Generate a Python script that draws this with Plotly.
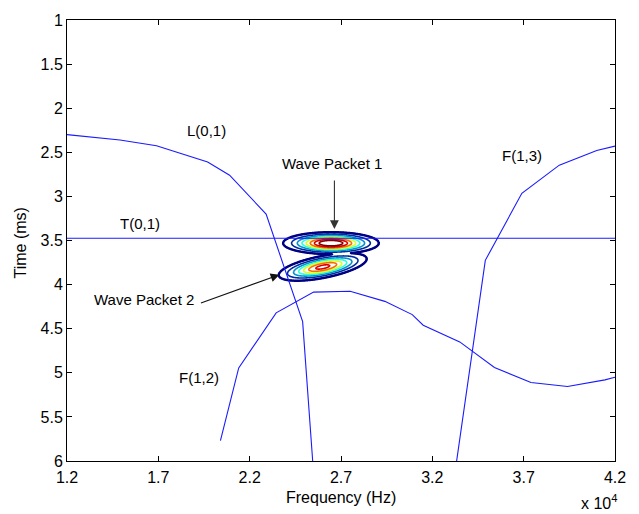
import numpy as np
import plotly.graph_objects as go

# ---------------- data (frequency in units of 10^4 Hz, time in ms) ----------------
L01_freq = [1.20, 1.49, 1.69, 1.97, 2.09, 2.29, 2.49, 2.545]
L01_time = [2.30, 2.36, 2.425, 2.61, 2.76, 3.20, 4.42, 6.00]

T01_freq = [1.20, 4.20]
T01_time = [3.475, 3.475]

F12_freq = [2.04, 2.14, 2.345, 2.55, 2.75, 2.94, 3.09, 3.15, 3.35, 3.54, 3.74, 3.94, 4.145, 4.20]
F12_time = [5.77, 4.945, 4.32, 4.085, 4.075, 4.19, 4.34, 4.46, 4.65, 4.94, 5.11, 5.155, 5.08, 5.05]

F13_freq = [3.333, 3.49, 3.69, 3.895, 4.10, 4.20]
F13_time = [6.00, 3.725, 2.965, 2.646, 2.48, 2.43]

# wave packets (time-frequency energy blobs)
packet_fc = [2.645, 2.60]      # centre frequency
packet_tc = [3.53, 3.80]       # centre time
packet_amp = [1.0, 0.8]        # relative energy
packet_sf = [0.122, 0.118]     # frequency spread
packet_st = [0.058, 0.062]     # time spread
packet_tilt = [0.0, -0.38]     # time drift per unit frequency

mode_labels = ["L(0,1)", "T(0,1)", "F(1,3)", "F(1,2)"]
mode_label_freq = [1.961, 1.601, 3.693, 1.925]
mode_label_time = [2.256, 3.306, 2.537, 5.05]

x_ticks = [1.2, 1.7, 2.2, 2.7, 3.2, 3.7, 4.2]
x_ticktext = ["1.2", "1.7", "2.2", "2.7", "3.2", "3.7", "4.2"]
y_ticks = [1, 1.5, 2, 2.5, 3, 3.5, 4, 4.5, 5, 5.5, 6]
y_ticktext = ["1", "1.5", "2", "2.5", "3", "3.5", "4", "4.5", "5", "5.5", "6"]

# ---------------- energy field for the contour ----------------
fx = np.linspace(2.15, 3.15, 320)
ty = np.linspace(3.15, 4.25, 320)
FX, TY = np.meshgrid(fx, ty)
Z = np.zeros_like(FX)
for fc, tc, a, sf, st, tl in zip(packet_fc, packet_tc, packet_amp, packet_sf, packet_st, packet_tilt):
    tcen = tc + tl * (FX - fc)
    g = a * np.exp(-0.5 * ((FX - fc) / sf) ** 2 - 0.5 * ((TY - tcen) / st) ** 2)
    Z = np.maximum(Z, g)

FONT = "Liberation Sans, Arial, sans-serif"
LINE_COLOR = "#1a1aff"

fig = go.Figure()
fig.add_trace(go.Contour(
    x=fx, y=ty, z=Z,
    contours=dict(coloring="lines", start=0.1, end=0.95, size=0.11),
    colorscale="Jet", zmin=0.1, zmax=0.98,
    line=dict(width=1.6), showscale=False, hoverinfo="skip",
))
# heavier outermost contour
fig.add_trace(go.Contour(
    x=fx, y=ty, z=Z,
    contours=dict(coloring="lines", start=0.1, end=0.1, size=1),
    colorscale=[[0, "#000083"], [1, "#000083"]],
    line=dict(width=2.4), showscale=False, hoverinfo="skip",
))
for fr, tm in [(L01_freq, L01_time), (T01_freq, T01_time), (F12_freq, F12_time), (F13_freq, F13_time)]:
    fig.add_trace(go.Scatter(x=fr, y=tm, mode="lines",
                             line=dict(color=LINE_COLOR, width=1.1), showlegend=False))

annotations = []
for txt, fx_, ty_ in zip(mode_labels, mode_label_freq, mode_label_time):
    annotations.append(dict(x=fx_, y=ty_, text=txt, showarrow=False,
                            font=dict(family=FONT, size=15, color="black")))

# Wave packet labels and arrows
annotations.append(dict(x=2.652, y=2.63, text="Wave Packet 1", showarrow=False,
                        font=dict(family=FONT, size=15, color="black")))
annotations.append(dict(x=2.664, y=3.37, text="", showarrow=True, ax=0, ay=-50,
                        arrowhead=2, arrowsize=1.6, arrowwidth=1.1, arrowcolor="#333333"))
annotations.append(dict(x=1.623, y=4.164, text="Wave Packet 2", showarrow=False,
                        font=dict(family=FONT, size=15, color="black")))
annotations.append(dict(x=2.363, y=3.887, text="", showarrow=True, ax=-80, ay=29,
                        arrowhead=2, arrowsize=1.6, arrowwidth=1.1, arrowcolor="#111111"))

# axis titles and exponent
annotations.append(dict(xref="paper", yref="paper", x=0.5, y=0, yshift=-36,
                        text="Frequency (Hz)", showarrow=False, yanchor="middle",
                        font=dict(family=FONT, size=16, color="black")))
annotations.append(dict(xref="paper", yref="paper", x=0, y=0.5, xshift=-47, yshift=-3,
                        text="Time (ms)", textangle=-90, showarrow=False, xanchor="center",
                        font=dict(family=FONT, size=16, color="black")))
annotations.append(dict(xref="paper", yref="paper", x=1, y=0, xshift=4, yshift=-29,
                        text="x 10<sup>4</sup>", showarrow=False, xanchor="right", yanchor="top",
                        font=dict(family=FONT, size=16, color="black")))

axis_common = dict(showline=True, linecolor="black", linewidth=1, mirror="ticks",
                   ticks="inside", ticklen=5, tickcolor="black", showgrid=False,
                   zeroline=False, tickfont=dict(family=FONT, size=16, color="black"))

fig.update_layout(
    width=639, height=514,
    margin=dict(l=67, r=24, t=16, b=53),
    paper_bgcolor="white", plot_bgcolor="white",
    showlegend=False,
    xaxis=dict(range=[1.2, 4.2], tickvals=x_ticks, ticktext=x_ticktext,
               ticklabelstandoff=2, **axis_common),
    yaxis=dict(range=[6, 1], tickvals=y_ticks, ticktext=y_ticktext, **axis_common),
    annotations=annotations,
)

fig.write_html("out.html")
